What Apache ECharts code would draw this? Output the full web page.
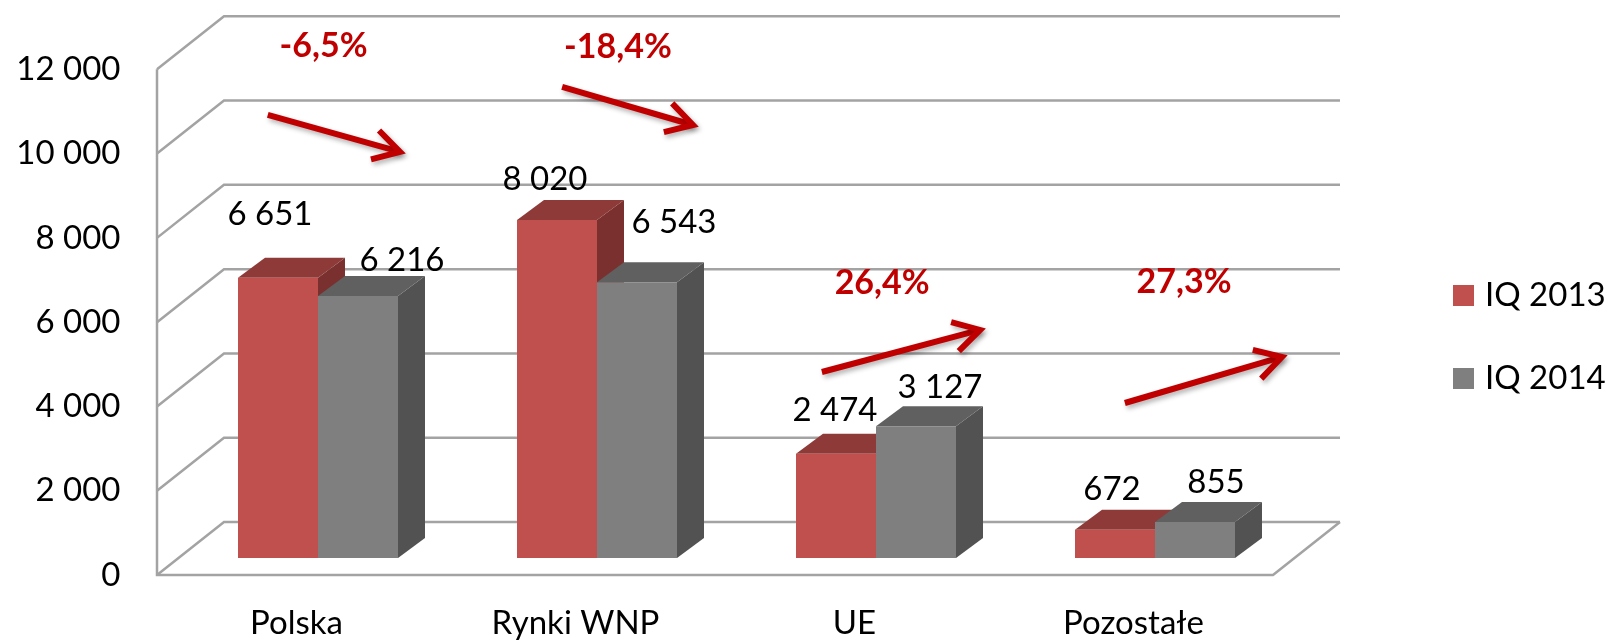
<!DOCTYPE html>
<html><head><meta charset="utf-8">
<script src="https://cdn.jsdelivr.net/npm/echarts@6/dist/echarts.min.js"></script>
<style>html,body{margin:0;padding:0;background:#fff}#c{width:1610px;height:643px}</style>
</head><body><div id="c"></div>
<script>
// ---- data ----
const categories = ['Polska', 'Rynki WNP', 'UE', 'Pozostałe'];
const seriesNames = ['IQ 2013', 'IQ 2014'];
const values2013 = [6651, 8020, 2474, 672];
const values2014 = [6216, 6543, 3127, 855];
const yTicks = [0, 2000, 4000, 6000, 8000, 10000, 12000];
const changeLabels = ['-6,5%', '-18,4%', '26,4%', '27,3%'];
// annotation anchors in data space: [category position, value]
const changeLabelAnchors = [[0.02, 12150], [1.075, 12126], [2.022, 6526], [3.104, 6550]];
const arrowStarts = [[-0.18, 10513], [0.875, 11177], [1.806, 4414], [2.892, 3678]];
const arrowEnds = [[0.294, 9635], [1.344, 10275], [2.373, 5411], [3.455, 4770]];

// ---- styling ----
const FONT = 'Lato';
const FRONT = [-21.5, 17], BACK = [45.5, -36], BAR_D = [27, -20], BAR_W = 80;
const GRID_COLOR = '#a3a3a3';
const ARROW_COLOR = '#c00000';
const palette = [
  { front: '#c0504d', top: '#8e3a38', side: '#7a302e' },
  { front: '#7f7f7f', top: '#606060', side: '#525252' }
];
const labelOffsets = [
  [[-8, -63], [-12, -41], [-1, -43], [-3, -40]],
  [[44, -36], [37, -60], [24, -39], [21, -40]]
];
function fmt(v) { return String(v).replace(/\B(?=(\d{3})+(?!\d))/g, ' '); }

const chart = echarts.init(document.getElementById('c'));

function gridRender(params, api) {
  const cs = params.coordSys;
  const v = api.value(1);
  const y = api.coord([0, v])[1];
  const L = cs.x, R = cs.x + cs.width;
  const st = { stroke: GRID_COLOR, lineWidth: 2.5, fill: null };
  const children = [{
    type: 'polyline',
    shape: { points: [[L + FRONT[0], y + FRONT[1]], [L + BACK[0], y + BACK[1]], [R + BACK[0], y + BACK[1]]] },
    style: st
  }];
  if (v === 0) {
    const yTop = api.coord([0, yTicks[yTicks.length - 1]])[1];
    children.push({
      type: 'polyline',
      shape: { points: [[L + FRONT[0], yTop + FRONT[1]], [L + FRONT[0], y + FRONT[1]], [R + FRONT[0], y + FRONT[1]], [R + BACK[0], y + BACK[1]]] },
      style: st
    });
  }
  return { type: 'group', children };
}

function barRender(sIdx) {
  const cols = palette[sIdx];
  return function (params, api) {
    const i = api.value(0), v = api.value(1);
    const base = api.coord([i, 0]), top = api.coord([i, v]);
    const x0 = base[0] + (sIdx === 0 ? -BAR_W : 0), x1 = x0 + BAR_W;
    const yb = base[1], yt = top[1];
    const dx = BAR_D[0], dy = BAR_D[1];
    const off = labelOffsets[sIdx][i];
    return {
      type: 'group', children: [
        { type: 'polygon', shape: { points: [[x1, yt], [x1 + dx, yt + dy], [x1 + dx, yb + dy], [x1, yb]] }, style: { fill: cols.side } },
        { type: 'polygon', shape: { points: [[x0, yt], [x0 + dx, yt + dy], [x1 + dx, yt + dy], [x1, yt]] }, style: { fill: cols.top } },
        { type: 'rect', shape: { x: x0, y: yt, width: BAR_W, height: yb - yt }, style: { fill: cols.front } },
        { type: 'text', z2: 10, style: { text: fmt(v), x: (x0 + x1) / 2 + off[0], y: yt + off[1], align: 'center', verticalAlign: 'middle', fontFamily: FONT, fontSize: 33, fill: '#000' } }
      ]
    };
  };
}

function annotRender(params, api) {
  const cs = params.coordSys;
  const band = cs.width / categories.length;
  const k = params.dataIndex;
  function px(p) { const c = api.coord([0, p[1]]); return [c[0] + p[0] * band, c[1]]; }
  const s = px(arrowStarts[k]), e = px(arrowEnds[k]), t = px(changeLabelAnchors[k]);
  const ang = Math.atan2(e[1] - s[1], e[0] - s[0]) + Math.PI;
  const W = 30, a = 30 * Math.PI / 180;
  const w1 = [e[0] + W * Math.cos(ang + a), e[1] + W * Math.sin(ang + a)];
  const w2 = [e[0] + W * Math.cos(ang - a), e[1] + W * Math.sin(ang - a)];
  const st = { stroke: ARROW_COLOR, lineWidth: 6, fill: null, lineCap: 'butt', lineJoin: 'miter',
    shadowBlur: 5, shadowColor: 'rgba(0,0,0,0.3)', shadowOffsetX: 2, shadowOffsetY: 3 };
  return {
    type: 'group', children: [
      { type: 'polyline', shape: { points: [s, e] }, style: st },
      { type: 'polyline', shape: { points: [w1, e, w2] }, style: st },
      { type: 'text', style: { text: changeLabels[k], x: t[0], y: t[1], align: 'center', verticalAlign: 'middle', fontFamily: FONT, fontWeight: 'bold', fontSize: 34, fill: ARROW_COLOR } }
    ]
  };
}

chart.setOption({
  animation: false,
  backgroundColor: '#fff',
  grid: { left: 178.5, top: 52.3, width: 1116, height: 505.7 },
  legend: {
    data: seriesNames, orient: 'vertical', left: 1448, top: 274,
    itemWidth: 21, itemHeight: 21, itemGap: 50, icon: 'rect',
    textStyle: { fontFamily: FONT, fontSize: 33, color: '#000', lineHeight: 21, padding: [0, 0, 0, 6] }
  },
  xAxis: {
    type: 'category', data: categories,
    axisLine: { show: false }, axisTick: { show: false }, splitLine: { show: false },
    axisLabel: { margin: 48, fontFamily: FONT, fontSize: 33, color: '#000', lineHeight: 34, padding: [0, 43, 0, 0] }
  },
  yAxis: {
    type: 'value', min: 0, max: 12000, interval: 2000,
    axisLine: { show: false }, axisTick: { show: false }, splitLine: { show: false },
    axisLabel: { margin: 58, fontFamily: FONT, fontSize: 33, color: '#000', lineHeight: 34, verticalAlign: 'top', formatter: fmt }
  },
  series: [
    { type: 'custom', name: 'grid', silent: true, z: 1, renderItem: gridRender, data: yTicks.map(v => [0, v]) },
    { type: 'custom', name: seriesNames[0], z: 2, itemStyle: { color: palette[0].front }, renderItem: barRender(0), data: values2013.map((v, i) => [i, v]) },
    { type: 'custom', name: seriesNames[1], z: 3, itemStyle: { color: palette[1].front }, renderItem: barRender(1), data: values2014.map((v, i) => [i, v]) },
    { type: 'custom', name: 'annotations', silent: true, z: 4, renderItem: annotRender, data: changeLabels.map((l, i) => [i, 0]) }
  ]
});
</script></body></html>
